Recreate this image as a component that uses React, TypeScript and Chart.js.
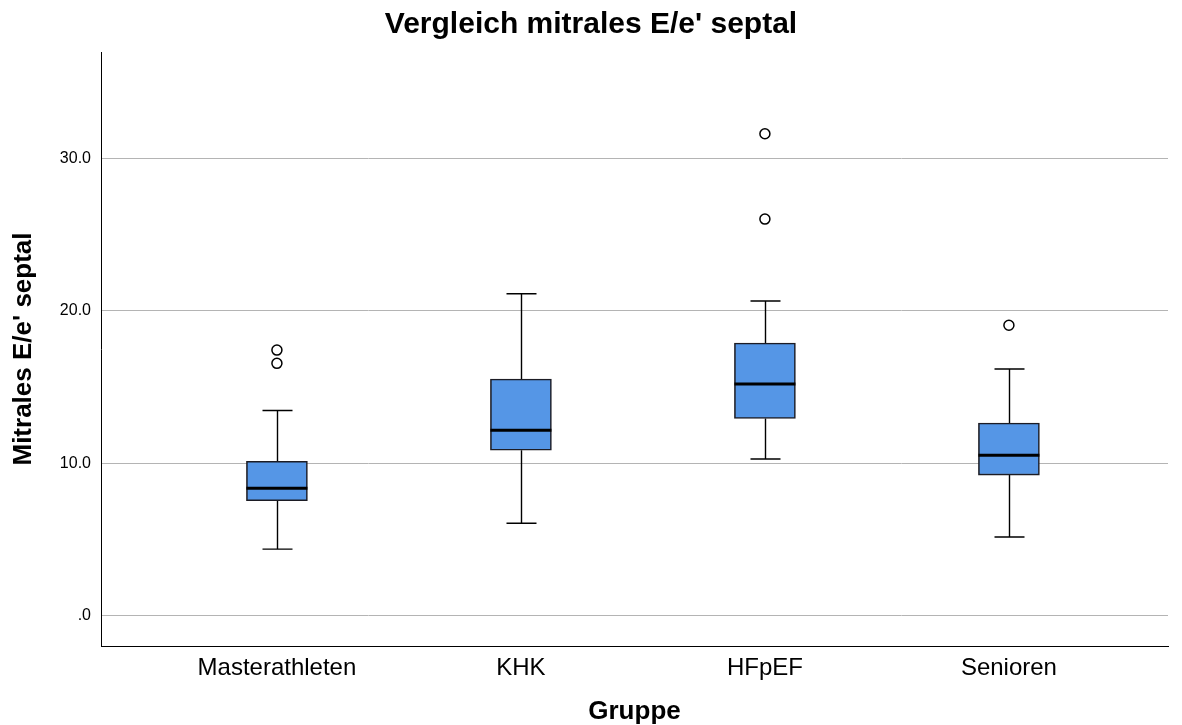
import { useEffect, useRef } from "react";
import { Chart, registerables } from "chart.js";

Chart.register(...registerables);

const FONT = "'Liberation Sans', Arial, Helvetica, sans-serif";

// Box plot summary per group (values of mitral E/e' septal)
const groups = ["Masterathleten", "KHK", "HFpEF", "Senioren"];
const whiskerLow = [4.36, 6.06, 10.28, 5.16];
const quartile1 = [7.54, 10.85, 12.94, 9.22];
const medians = [8.35, 12.16, 15.21, 10.52];
const quartile3 = [10.13, 15.53, 17.89, 12.64];
const whiskerHigh = [13.46, 21.13, 20.65, 16.19];

// Outliers: group position (1-based) and value
const outlierGroup = [1, 1, 3, 3, 4];
const outlierValues = [16.56, 17.43, 26.03, 31.63, 19.06];

const yTicks = [0, 10, 20, 30];

const TITLE = "Vergleich mitrales E/e' septal";

const whiskerPlugin = {
  id: "boxWhiskers",
  beforeDatasetsDraw(chart: any) {
    const { ctx, scales } = chart;
    const x = scales.x;
    const y = scales.y;
    ctx.save();
    ctx.strokeStyle = "#000";
    ctx.lineWidth = 1.4;
    groups.forEach((_, i) => {
      const cx = Math.round(x.getPixelForValue(i + 1)) + 0.5;
      const lo = y.getPixelForValue(whiskerLow[i]);
      const q1 = y.getPixelForValue(quartile1[i]);
      const q3 = y.getPixelForValue(quartile3[i]);
      const hi = y.getPixelForValue(whiskerHigh[i]);
      ctx.beginPath();
      ctx.moveTo(cx, q1);
      ctx.lineTo(cx, lo);
      ctx.moveTo(cx - 15, lo);
      ctx.lineTo(cx + 15, lo);
      ctx.moveTo(cx, q3);
      ctx.lineTo(cx, hi);
      ctx.moveTo(cx - 15, hi);
      ctx.lineTo(cx + 15, hi);
      ctx.stroke();
    });
    ctx.restore();
  },
  afterDatasetsDraw(chart: any) {
    const { ctx, scales } = chart;
    const x = scales.x;
    const y = scales.y;
    ctx.save();
    ctx.strokeStyle = "#000";
    ctx.lineWidth = 3;
    groups.forEach((_, i) => {
      const cx = x.getPixelForValue(i + 1);
      const m = y.getPixelForValue(medians[i]);
      ctx.beginPath();
      ctx.moveTo(cx - 30.5, m);
      ctx.lineTo(cx + 30.5, m);
      ctx.stroke();
    });
    ctx.restore();
  },
};

const titlePlugin = {
  id: "centerTitle",
  afterDraw(chart: any) {
    const { ctx } = chart;
    ctx.save();
    ctx.fillStyle = "#000";
    ctx.font = `bold 30px ${FONT}`;
    ctx.textAlign = "center";
    ctx.textBaseline = "middle";
    ctx.fillText(TITLE, chart.width / 2, 25);
    ctx.restore();
  },
};

export default function App() {
  const canvasRef = useRef<HTMLCanvasElement | null>(null);

  useEffect(() => {
    if (!canvasRef.current) return;
    const chart = new Chart(canvasRef.current, {
      type: "bar",
      data: {
        datasets: [
          {
            type: "bar",
            data: groups.map((_, i) => ({ x: i + 1, y: [quartile1[i], quartile3[i]] })) as any,
            backgroundColor: "#5596e6",
            borderColor: "#1c1c24",
            borderWidth: 1.6,
            borderSkipped: false,
            barThickness: 61,
          },
          {
            type: "scatter",
            data: outlierValues.map((v, i) => ({ x: outlierGroup[i], y: v })) as any,
            pointRadius: 5,
            pointBorderWidth: 1.5,
            borderColor: "#000",
            backgroundColor: "#fff",
            pointStyle: "circle",
          } as any,
        ],
      },
      options: {
        animation: false,
        responsive: true,
        maintainAspectRatio: false,
        layout: { padding: { top: 52, right: 14, left: 0, bottom: 0 } },
        plugins: {
          legend: { display: false },
          tooltip: { enabled: false },
          title: { display: false },
        },
        scales: {
          x: {
            type: "linear",
            min: 0.279,
            max: 4.652,
            offset: false,
            afterBuildTicks: (s: any) => {
              s.ticks = groups.map((_, i) => ({ value: i + 1 }));
            },
            ticks: {
              callback: (v: any) => groups[Number(v) - 1] ?? "",
              font: { size: 24, family: FONT },
              color: "#000",
              padding: 8,
              maxRotation: 0,
              autoSkip: false,
            },
            grid: { display: false, drawTicks: false, offset: false },
            border: { display: true, color: "#000", width: 1 },
            title: {
              display: true,
              text: "Gruppe",
              font: { size: 26, weight: "bold", family: FONT, lineHeight: 1.2 },
              color: "#000",
              padding: { top: 0, bottom: -2 },
            },
            afterFit: (s: any) => {
              s.height = 79;
            },
          },
          y: {
            type: "linear",
            min: -2,
            max: 37,
            afterBuildTicks: (s: any) => {
              s.ticks = yTicks.map((v) => ({ value: v }));
            },
            ticks: {
              callback: (v: any) => (Number(v) === 0 ? ".0" : Number(v).toFixed(1)),
              font: { size: 16, family: FONT },
              color: "#000",
              padding: 10,
            },
            grid: { color: "#b4b4b4", lineWidth: 1, drawTicks: false },
            border: { display: true, color: "#000", width: 1 },
            title: {
              display: true,
              text: "Mitrales E/e' septal",
              font: { size: 26, weight: "bold", family: FONT, lineHeight: 1.2 },
              color: "#000",
              padding: { top: 8, bottom: 0 },
            },
            afterFit: (s: any) => {
              s.width = 101;
            },
          },
        },
      } as any,
      plugins: [whiskerPlugin, titlePlugin],
    });
    return () => chart.destroy();
  }, []);

  return (
    <div style={{ position: "fixed", left: 0, top: 0, width: 1182, height: 725, background: "#fff" }}>
      <canvas ref={canvasRef} />
    </div>
  );
}
